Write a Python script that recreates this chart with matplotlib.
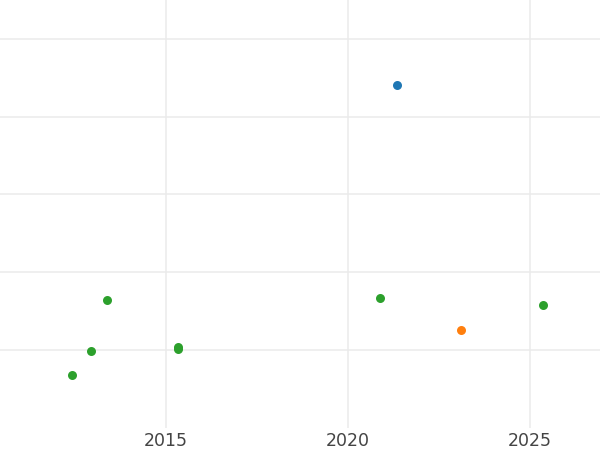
import matplotlib
matplotlib.use("Agg")
import matplotlib.pyplot as plt

# data
blue_x = [2021.35]
blue_y = [4.41]
orange_x = [2023.10]
orange_y = [1.25]
green_x = [2013.37, 2012.93, 2012.43, 2015.33, 2015.33, 2020.88, 2025.36]
green_y = [1.64, 0.99, 0.68, 1.03, 1.01, 1.67, 1.57]
x_ticks = [2015, 2020, 2025]
y_grid = [1, 2, 3, 4, 5]

fig = plt.figure(figsize=(6, 4.5), dpi=100)
ax = fig.add_axes([0, 0.05, 1, 0.95])
ax.scatter(green_x, green_y, s=42, color="#2ca02c", zorder=3, linewidths=0)
ax.scatter(orange_x, orange_y, s=42, color="#ff7f0e", zorder=3, linewidths=0)
ax.scatter(blue_x, blue_y, s=42, color="#1f77b4", zorder=3, linewidths=0)

ax.set_xlim(2010.44, 2026.92)
ax.set_ylim(0, 5.5)
ax.set_xticks(x_ticks)
ax.set_xticklabels([str(t) for t in x_ticks])
ax.set_yticks(y_grid)
ax.set_yticklabels([])
ax.tick_params(axis="both", length=0, labelsize=12.5, labelcolor="#444444", pad=3.5)
ax.grid(True, color="#ebebeb", linewidth=1.1)
ax.set_axisbelow(True)
for s in ax.spines.values():
    s.set_visible(False)

fig.savefig("out.png", dpi=100)
